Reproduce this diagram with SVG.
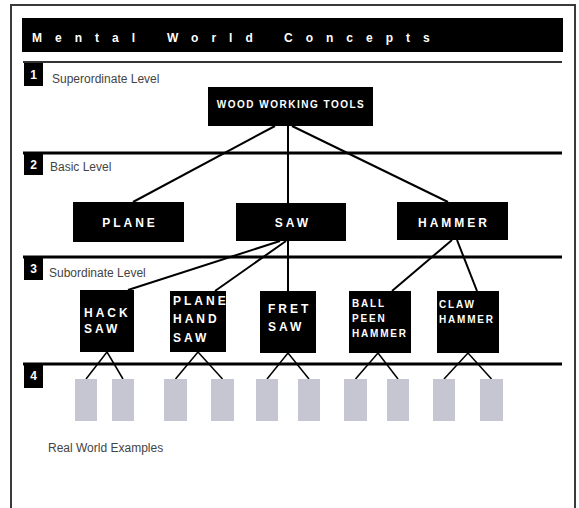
<svg xmlns="http://www.w3.org/2000/svg" width="579" height="508" viewBox="0 0 579 508">
<style>
  .lvl { stroke: #000; stroke-width: 3; }
  .num { fill: #000; }
  .numt { fill: #fff; font-family: "Liberation Sans", Arial, sans-serif; font-weight: bold; font-size: 12px; text-anchor: middle; }
  .lbl { fill: #444; font-family: "Liberation Sans", Arial, sans-serif; font-size: 12px; }
  .box { fill: #000; }
  .bt { fill: #fff; font-family: "Liberation Sans", Arial, sans-serif; font-weight: bold; font-size: 12px; letter-spacing: 3px; }
  .bts { fill: #fff; font-family: "Liberation Sans", Arial, sans-serif; font-weight: bold; font-size: 10px; letter-spacing: 1.8px; }
  .ex { fill: #c6c6d2; }
  .con line { stroke: #000; stroke-width: 2; }
  .con line.s { stroke-width: 1.5; }
</style>
<rect x="0" y="0" width="579" height="508" fill="#fff"/>
<rect x="11" y="5" width="564" height="520" fill="none" stroke="#3a3a3a" stroke-width="2"/>

<g id="title">
  <rect x="22" y="18" width="541" height="34" fill="#000"/>
  <text fill="#fff" font-family="'Liberation Sans', Arial, sans-serif" font-weight="bold" font-size="12" letter-spacing="13">
    <tspan x="32" y="42">Mental</tspan><tspan x="167" y="42">World</tspan><tspan x="284" y="42">Concepts</tspan>
  </text>
</g>

<g id="levels">
  <line x1="23" y1="62" x2="562" y2="62" stroke="#333" stroke-width="2"/>
  <line class="lvl" x1="23" y1="153" x2="562" y2="153"/>
  <line class="lvl" x1="23" y1="257" x2="562" y2="257"/>
  <line class="lvl" x1="23" y1="364" x2="562" y2="364"/>
  <rect class="num" x="24" y="63" width="19" height="23"/>
  <text class="numt" x="33.5" y="79">1</text>
  <rect class="num" x="24" y="153" width="19" height="22"/>
  <text class="numt" x="33.5" y="169">2</text>
  <rect class="num" x="24" y="257" width="19" height="23"/>
  <text class="numt" x="33.5" y="273">3</text>
  <rect class="num" x="24" y="364" width="19" height="24"/>
  <text class="numt" x="33.5" y="380">4</text>
  <text class="lbl" x="52" y="83">Superordinate Level</text>
  <text class="lbl" x="50" y="171">Basic Level</text>
  <text class="lbl" x="49" y="277">Subordinate Level</text>
  <text class="lbl" x="48" y="452">Real World Examples</text>
</g>

<g id="connectors" class="con">
  <line x1="275" y1="126" x2="133" y2="202"/>
  <line x1="288" y1="126" x2="288" y2="203"/>
  <line x1="292" y1="126" x2="448" y2="202"/>
  <line x1="280" y1="241" x2="128" y2="290"/>
  <line x1="286" y1="241" x2="215" y2="291"/>
  <line x1="288" y1="241" x2="288" y2="291"/>
  <line x1="452" y1="240" x2="392" y2="291"/>
  <line x1="457" y1="240" x2="477" y2="291"/>
  <line class="s" x1="107" y1="352" x2="86" y2="379"/>
  <line class="s" x1="107" y1="352" x2="123" y2="379"/>
  <line class="s" x1="198" y1="352" x2="175.5" y2="379"/>
  <line class="s" x1="198" y1="352" x2="222.5" y2="379"/>
  <line class="s" x1="288" y1="353" x2="267" y2="379"/>
  <line class="s" x1="288" y1="353" x2="309" y2="379"/>
  <line class="s" x1="378" y1="353" x2="355.5" y2="379"/>
  <line class="s" x1="378" y1="353" x2="398" y2="379"/>
  <line class="s" x1="468" y1="353" x2="444" y2="379"/>
  <line class="s" x1="468" y1="353" x2="491.5" y2="379"/>
</g>

<g id="wood-working-tools">
  <rect class="box" x="208" y="87" width="165" height="39"/>
  <text x="291" y="108" fill="#fff" font-family="'Liberation Sans', Arial, sans-serif" font-weight="bold" font-size="10" letter-spacing="1.5" text-anchor="middle">WOOD WORKING TOOLS</text>
</g>
<g id="plane">
  <rect class="box" x="73" y="202" width="111" height="40"/>
  <text class="bt" x="130" y="227" text-anchor="middle">PLANE</text>
</g>
<g id="saw">
  <rect class="box" x="236" y="203" width="110" height="38"/>
  <text class="bt" x="293" y="227" text-anchor="middle">SAW</text>
</g>
<g id="hammer">
  <rect class="box" x="397" y="202" width="111" height="38"/>
  <text class="bt" x="454" y="227" text-anchor="middle">HAMMER</text>
</g>
<g id="hack-saw">
  <rect class="box" x="80" y="290" width="54" height="62"/>
  <text class="bt" x="84" y="317">HACK</text>
  <text class="bt" x="84" y="333">SAW</text>
</g>
<g id="plane-hand-saw">
  <rect class="box" x="170" y="291" width="56" height="61"/>
  <text class="bt" x="173" y="305">PLANE</text>
  <text class="bt" x="173" y="323">HAND</text>
  <text class="bt" x="173" y="342">SAW</text>
</g>
<g id="fret-saw">
  <rect class="box" x="260" y="291" width="56" height="62"/>
  <text class="bt" x="268" y="313">FRET</text>
  <text class="bt" x="268" y="331">SAW</text>
</g>
<g id="ball-peen-hammer">
  <rect class="box" x="349" y="291" width="62" height="62"/>
  <text class="bts" x="352" y="307">BALL</text>
  <text class="bts" x="352" y="322">PEEN</text>
  <text class="bts" x="352" y="337">HAMMER</text>
</g>
<g id="claw-hammer">
  <rect class="box" x="437" y="291" width="62" height="62"/>
  <text class="bts" x="439" y="308">CLAW</text>
  <text class="bts" x="439" y="323">HAMMER</text>
</g>

<g id="examples">
  <rect class="ex" x="75" y="379" width="22" height="42"/>
  <rect class="ex" x="112" y="379" width="22" height="42"/>
  <rect class="ex" x="164" y="379" width="23" height="42"/>
  <rect class="ex" x="211" y="379" width="23" height="42"/>
  <rect class="ex" x="256" y="379" width="22" height="42"/>
  <rect class="ex" x="298" y="379" width="22" height="42"/>
  <rect class="ex" x="344" y="379" width="23" height="42"/>
  <rect class="ex" x="387" y="379" width="22" height="42"/>
  <rect class="ex" x="433" y="379" width="22" height="42"/>
  <rect class="ex" x="480" y="379" width="23" height="42"/>
</g>
</svg>
